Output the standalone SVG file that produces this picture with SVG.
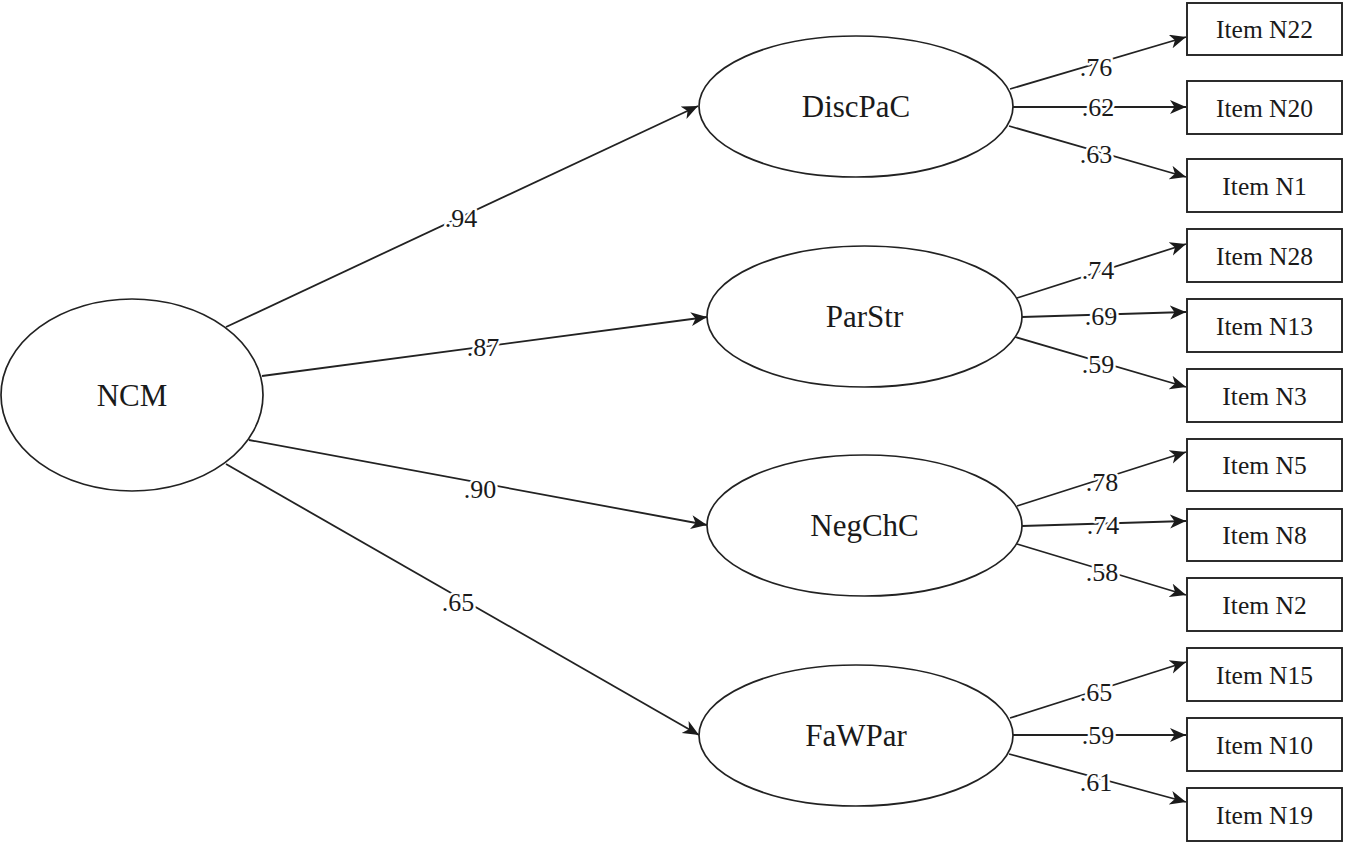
<svg xmlns="http://www.w3.org/2000/svg" width="1346" height="843" viewBox="0 0 1346 843">
<defs>
<marker id="arr" markerUnits="userSpaceOnUse" markerWidth="17" markerHeight="15" refX="16" refY="7" orient="auto">
<path d="M0,0 L16,7 L0,14 L4.5,7 Z" fill="#1a1a1a"/>
</marker>
<style>
.lat{fill:#fff;stroke:#222;stroke-width:1.7}
.box{fill:#fff;stroke:#222;stroke-width:1.9}
.edge{stroke:#222;stroke-width:1.8;fill:none;marker-end:url(#arr)}
.t{font-family:"Liberation Serif","Times New Roman",serif;fill:#1a1a1a;text-anchor:middle}
.tl{font-size:31px}
.ti{font-size:25.5px}
.tc{font-size:26px;paint-order:stroke;stroke:#fff;stroke-width:5px;stroke-linejoin:round}
</style>
</defs>
<rect width="1346" height="843" fill="#fff"/>
<g id="connectors">
<line class="edge" x1="226" y1="327" x2="698" y2="106"/>
<line class="edge" x1="262" y1="376" x2="707" y2="317"/>
<line class="edge" x1="249" y1="440" x2="707" y2="525"/>
<line class="edge" x1="226" y1="464" x2="699" y2="735"/>
<line class="edge" x1="1010" y1="89" x2="1186" y2="37"/>
<line class="edge" x1="1013" y1="107" x2="1186" y2="107"/>
<line class="edge" x1="1009" y1="126" x2="1186" y2="177"/>
<line class="edge" x1="1017" y1="298" x2="1186" y2="244"/>
<line class="edge" x1="1022" y1="317" x2="1186" y2="312"/>
<line class="edge" x1="1015" y1="337" x2="1186" y2="387"/>
<line class="edge" x1="1017" y1="506" x2="1186" y2="452"/>
<line class="edge" x1="1022" y1="526" x2="1186" y2="521"/>
<line class="edge" x1="1017" y1="544" x2="1186" y2="595"/>
<line class="edge" x1="1010" y1="718" x2="1186" y2="662"/>
<line class="edge" x1="1013" y1="735" x2="1186" y2="735"/>
<line class="edge" x1="1009" y1="754" x2="1186" y2="802"/>
<text class="t tc" x="461" y="227">.94</text>
<text class="t tc" x="483" y="356">.87</text>
<text class="t tc" x="480" y="498">.90</text>
<text class="t tc" x="458" y="611">.65</text>
<text class="t tc" x="1096" y="76">.76</text>
<text class="t tc" x="1098" y="116">.62</text>
<text class="t tc" x="1096" y="163">.63</text>
<text class="t tc" x="1098" y="279">.74</text>
<text class="t tc" x="1101" y="325">.69</text>
<text class="t tc" x="1098" y="373">.59</text>
<text class="t tc" x="1102" y="491">.78</text>
<text class="t tc" x="1103" y="534">.74</text>
<text class="t tc" x="1102" y="581">.58</text>
<text class="t tc" x="1096" y="701">.65</text>
<text class="t tc" x="1098" y="744">.59</text>
<text class="t tc" x="1096" y="791">.61</text>
</g>
<g id="NCM"><ellipse class="lat" cx="132" cy="395" rx="131" ry="96"/><text class="t tl" x="132" y="406">NCM</text></g>
<g id="DiscPaC"><ellipse class="lat" cx="856" cy="106.5" rx="157" ry="70.5"/><text class="t tl" x="856" y="117">DiscPaC</text></g>
<g id="ParStr"><ellipse class="lat" cx="864.5" cy="316.5" rx="157.5" ry="70.5"/><text class="t tl" x="864.5" y="327">ParStr</text></g>
<g id="NegChC"><ellipse class="lat" cx="864.5" cy="525.5" rx="157.5" ry="70.5"/><text class="t tl" x="864.5" y="536">NegChC</text></g>
<g id="FaWPar"><ellipse class="lat" cx="856" cy="735.5" rx="157" ry="70.5"/><text class="t tl" x="856" y="746">FaWPar</text></g>
<g id="ItemN22"><rect class="box" x="1187" y="3" width="155" height="52"/><text class="t ti" x="1264.5" y="38">Item N22</text></g>
<g id="ItemN20"><rect class="box" x="1187" y="81" width="155" height="53"/><text class="t ti" x="1264.5" y="116.5">Item N20</text></g>
<g id="ItemN1"><rect class="box" x="1187" y="159" width="155" height="53"/><text class="t ti" x="1264.5" y="194.5">Item N1</text></g>
<g id="ItemN28"><rect class="box" x="1187" y="229" width="155" height="53"/><text class="t ti" x="1264.5" y="264.5">Item N28</text></g>
<g id="ItemN13"><rect class="box" x="1187" y="299" width="155" height="53"/><text class="t ti" x="1264.5" y="334.5">Item N13</text></g>
<g id="ItemN3"><rect class="box" x="1187" y="369" width="155" height="53"/><text class="t ti" x="1264.5" y="404.5">Item N3</text></g>
<g id="ItemN5"><rect class="box" x="1187" y="439" width="155" height="52"/><text class="t ti" x="1264.5" y="474">Item N5</text></g>
<g id="ItemN8"><rect class="box" x="1187" y="509" width="155" height="52"/><text class="t ti" x="1264.5" y="544">Item N8</text></g>
<g id="ItemN2"><rect class="box" x="1187" y="578" width="155" height="53"/><text class="t ti" x="1264.5" y="613.5">Item N2</text></g>
<g id="ItemN15"><rect class="box" x="1187" y="648" width="155" height="53"/><text class="t ti" x="1264.5" y="683.5">Item N15</text></g>
<g id="ItemN10"><rect class="box" x="1187" y="718" width="155" height="53"/><text class="t ti" x="1264.5" y="753.5">Item N10</text></g>
<g id="ItemN19"><rect class="box" x="1187" y="788" width="155" height="53"/><text class="t ti" x="1264.5" y="823.5">Item N19</text></g>
</svg>
